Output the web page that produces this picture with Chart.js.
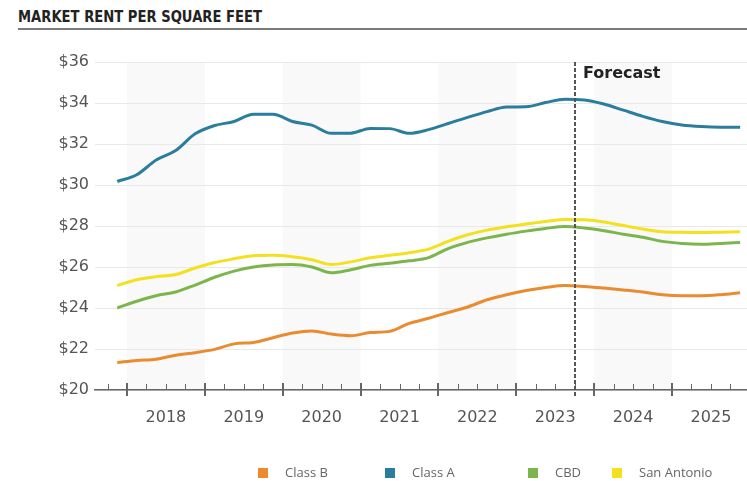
<!DOCTYPE html>
<html>
<head>
<meta charset="utf-8">
<script src="https://cdn.jsdelivr.net/npm/chart.js@4.4.1/dist/chart.umd.min.js"></script>
<style>
    body { margin: 0; background: #fff; width: 747px; height: 481px; overflow: hidden; position: relative; }
    #title { position: absolute; left: 18px; top: 8px; font: bold 15px "DejaVu Sans", sans-serif; color: #222; white-space: nowrap; transform-origin: 0 0; letter-spacing: 0; }
    #rule { position: absolute; left: 18px; top: 28px; width: 729px; height: 2px; background: #7a7a7a; }
    canvas { position: absolute; left: 0; top: 0; }
    .leg { position: absolute; top: 464px; height: 16px; font: 13px "Open Sans", sans-serif; color: #666; line-height: 16px; white-space: nowrap; }
    .leg i { display: inline-block; width: 10px; height: 10px; vertical-align: -1px; margin-right: 17px; }
</style>
</head>
<body>
<div id="title">MARKET RENT PER SQUARE FEET</div>
<div id="rule"></div>
<canvas id="rentChart" width="747" height="481"></canvas>
<div id="legend"></div>
<script>
// quarterly data, 2017 Q4 .. 2025 Q4
const quarters = [
    '2017 Q4',
    '2018 Q1', '2018 Q2', '2018 Q3', '2018 Q4',
    '2019 Q1', '2019 Q2', '2019 Q3', '2019 Q4',
    '2020 Q1', '2020 Q2', '2020 Q3', '2020 Q4',
    '2021 Q1', '2021 Q2', '2021 Q3', '2021 Q4',
    '2022 Q1', '2022 Q2', '2022 Q3', '2022 Q4',
    '2023 Q1', '2023 Q2', '2023 Q3', '2023 Q4',
    '2024 Q1', '2024 Q2', '2024 Q3', '2024 Q4',
    '2025 Q1', '2025 Q2', '2025 Q3', '2025 Q4'
];
const classA = [30.17, 30.5, 31.22, 31.68, 32.5, 32.9, 33.1, 33.45, 33.45, 33.1, 32.92, 32.52, 32.53,
    32.76, 32.75, 32.52, 32.7, 33.0, 33.3, 33.58, 33.8, 33.82, 34.02, 34.18, 34.15, 33.95, 33.65,
    33.35, 33.1, 32.93, 32.85, 32.82, 32.82];
const classB = [21.34, 21.44, 21.5, 21.7, 21.82, 21.98, 22.25, 22.32, 22.55, 22.78, 22.88, 22.73, 22.65,
    22.8, 22.86, 23.25, 23.5, 23.78, 24.05, 24.4, 24.65, 24.85, 25.0, 25.1, 25.05, 24.97, 24.88,
    24.78, 24.65, 24.6, 24.6, 24.65, 24.74];
const cbd = [24.0, 24.33, 24.6, 24.78, 25.12, 25.5, 25.8, 26.0, 26.1, 26.12, 26.0, 25.72, 25.87,
    26.08, 26.18, 26.3, 26.46, 26.9, 27.2, 27.42, 27.6, 27.75, 27.88, 27.97, 27.9, 27.77, 27.6,
    27.45, 27.25, 27.15, 27.11, 27.15, 27.2];
const sanAntonio = [25.1, 25.38, 25.53, 25.63, 25.95, 26.22, 26.4, 26.55, 26.57, 26.5, 26.35, 26.12, 26.25,
    26.45, 26.57, 26.7, 26.87, 27.25, 27.57, 27.8, 27.96, 28.1, 28.22, 28.32, 28.3, 28.2, 28.02,
    27.85, 27.72, 27.69, 27.68, 27.7, 27.72];
const yearLabels = ['2018', '2019', '2020', '2021', '2022', '2023', '2024', '2025'];
const seriesNames = ['Class B', 'Class A', 'CBD', 'San Antonio'];
const forecastStart = '2023 Q4';
const forecastLabel = 'Forecast';

const colors = {
    'Class A': '#2b7d9e',
    'Class B': '#ea8b2f',
    'CBD': '#7cb54c',
    'San Antonio': '#f3e01f'
};

// quarter string -> position in years (centre of the quarter)
function quarterCentre(q) {
    const parts = q.split(' Q');
    return +parts[0] + (parts[1] - 1) / 4 + 0.125;
}
function quarterStart(q) {
    const parts = q.split(' Q');
    return +parts[0] + (parts[1] - 1) / 4;
}

function toPoints(values) {
    return quarters.map((q, i) => ({ x: quarterCentre(q), y: values[i] }));
}

const seriesValues = { 'Class A': classA, 'Class B': classB, 'CBD': cbd, 'San Antonio': sanAntonio };

// html legend
const legendLeft = [258, 385, 528, 612];
const legendBox = document.getElementById('legend');
seriesNames.forEach((name, i) => {
    const item = document.createElement('div');
    item.className = 'leg';
    item.style.left = legendLeft[i] + 'px';
    item.innerHTML = '<i style="background:' + colors[name] + '"></i>' + name;
    legendBox.appendChild(item);
});

// shaded year bands, quarter tick marks and the forecast divider
const decorPlugin = {
    id: 'decor',
    beforeDraw(chart) {
        const { ctx, chartArea: a, scales: { x } } = chart;
        ctx.save();
        ctx.fillStyle = '#f9f9f9';
        yearLabels.forEach((y, i) => {
            if (i % 2 !== 0) return;
            const x0 = x.getPixelForValue(+y);
            const x1 = Math.min(x.getPixelForValue(+y + 1), a.right);
            ctx.fillRect(x0, a.top, x1 - x0, a.bottom - a.top);
        });
        ctx.restore();
    },
    afterDraw(chart) {
        const { ctx, chartArea: a, scales: { x } } = chart;
        ctx.save();
        ctx.strokeStyle = '#666';
        for (let v = Math.ceil(x.min * 4) / 4; v <= x.max; v += 0.25) {
            const px = Math.round(x.getPixelForValue(v));
            const major = Math.abs(v - Math.round(v)) < 1e-6;
            ctx.beginPath();
            if (major) {
                ctx.lineWidth = 2;
                ctx.moveTo(px, a.bottom - 7);
                ctx.lineTo(px, a.bottom + 6);
            } else {
                ctx.lineWidth = 1;
                ctx.moveTo(px + 0.5, a.bottom - 6);
                ctx.lineTo(px + 0.5, a.bottom);
            }
            ctx.stroke();
        }

        const fx = Math.round(x.getPixelForValue(quarterStart(forecastStart)));
        ctx.strokeStyle = '#555';
        ctx.lineWidth = 2;
        ctx.setLineDash([4, 2]);
        ctx.beginPath();
        ctx.moveTo(fx, a.top);
        ctx.lineTo(fx, a.bottom + 6);
        ctx.stroke();
        ctx.setLineDash([]);

        ctx.fillStyle = '#222';
        ctx.font = 'bold 16px "DejaVu Sans", sans-serif';
        ctx.textBaseline = 'middle';
        ctx.textAlign = 'left';
        ctx.fillText(forecastLabel, fx + 8, a.top + 12);
        ctx.restore();
    }
};

const drawOrder = ['Class A', 'CBD', 'San Antonio', 'Class B'];

const ctx = document.getElementById('rentChart').getContext('2d');
const rentChart = new Chart(ctx, {
    type: 'line',
    data: {
        datasets: drawOrder.map(name => ({
            label: name,
            data: toPoints(seriesValues[name]),
            borderColor: colors[name],
            borderWidth: 3,
            pointRadius: 0,
            fill: false,
            cubicInterpolationMode: 'monotone'
        }))
    },
    options: {
        responsive: false,
        animation: false,
        devicePixelRatio: 1,
        layout: { padding: { top: 62, right: 0, bottom: 0, left: 0 } },
        plugins: { legend: { display: false }, tooltip: { enabled: false } },
        scales: {
            x: {
                type: 'linear',
                min: 2017.589,
                max: 2025.963,
                afterBuildTicks: (s) => { s.ticks = yearLabels.map(y => ({ value: +y + 0.5 })); },
                afterFit: (s) => { s.height = 91; },
                grid: { display: false },
                border: { display: true, color: '#666', width: 1.5 },
                ticks: {
                    autoSkip: false,
                    maxRotation: 0,
                    padding: 10,
                    color: '#555',
                    font: { family: '"DejaVu Sans", sans-serif', size: 16 },
                    callback: (v) => String(Math.floor(v))
                }
            },
            y: {
                min: 20,
                max: 36,
                afterFit: (s) => { s.width = 95; },
                grid: { color: '#e8e8e8', lineWidth: 1, drawTicks: false },
                border: { display: false },
                ticks: {
                    stepSize: 2,
                    padding: 6,
                    color: '#555',
                    font: { family: '"DejaVu Sans", sans-serif', size: 16 },
                    callback: (v) => '$' + v
                }
            }
        }
    },
    plugins: [decorPlugin]
});

// fit the title to its width in the original
document.fonts.ready.then(() => {
    const t = document.getElementById('title');
    const w = t.getBoundingClientRect().width;
    t.style.transform = 'scaleX(' + (244 / w) + ')';
});
</script>
</body>
</html>
